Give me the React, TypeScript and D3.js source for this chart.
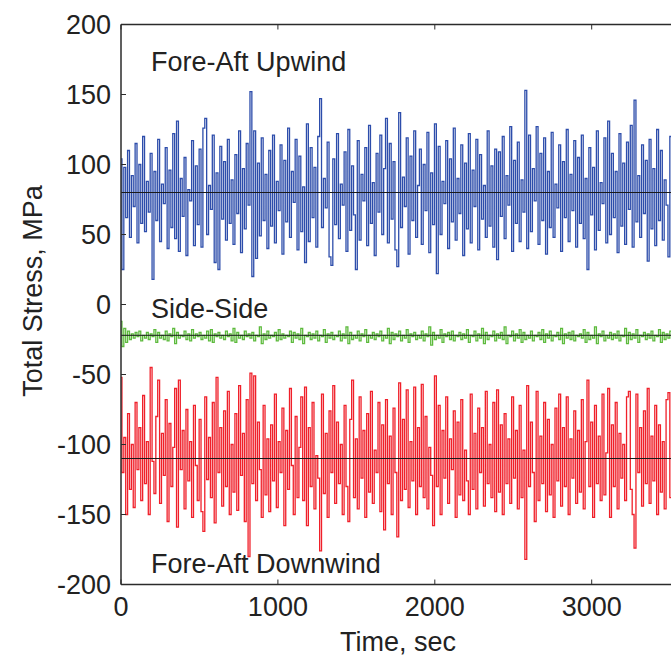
import React from "react";
import * as d3 from "d3";

const W = 671;
const H = 655;

const sampleStep = 12; // seconds between samples
const xTicks = [0, 1000, 2000, 3000];
const yTicks = [200, 150, 100, 50, 0, -50, -100, -150, -200];

const upwind = [
  104, 25, 98, 62, 110, 48, 92, 70, 115, 44, 100, 58, 120, 52, 88, 66, 108, 18, 95, 60,
  118, 45, 86, 72, 112, 40, 96, 55, 122, 47, 131, 38, 90, 63, 105, 35, 82, 74, 117, 42,
  99, 57, 111, 41, 126, 133, 50, 85, 68, 121, 30, 94, 25, 113, 61, 102, 46, 118, 58, 89,
  43, 107, 65, 124, 37, 97, 54, 115, 71, 152, 20, 124, 33, 101, 49, 119, 60, 93, 40, 110,
  56, 121, 44, 88, 67, 114, 36, 103, 59, 126, 48, 95, 73, 118, 39, 106, 52, 84, 30, 129,
  45, 112, 62, 98, 41, 120, 147, 55, 90, 69, 116, 34, 28, 104, 57, 122, 47, 86, 71, 109,
  38, 125, 53, 99, 64, 25, 117, 46, 93, 74, 112, 42, 128, 58, 87, 35, 108, 66, 121, 50,
  97, 133, 44, 115, 61, 102, 39, 27, 137, 55, 91, 70, 119, 36, 106, 60, 124, 48, 85, 111,
  43, 100, 67, 123, 37, 94, 57, 129, 22, 113, 50, 88, 72, 117, 40, 104, 59, 126, 46, 90,
  65, 114, 35, 101, 54, 122, 44, 96, 70, 118, 39, 107, 61, 85, 48, 124, 56, 99, 41, 111,
  32, 109, 63, 120, 47, 92, 71, 127, 38, 103, 58, 116, 45, 89, 66, 153, 40, 121, 52, 97,
  74, 127, 43, 108, 60, 119, 36, 95, 55, 123, 48, 86, 69, 114, 38, 102, 62, 125, 45, 93,
  67, 117, 41, 105, 58, 121, 47, 90, 25, 112, 64, 98, 39, 124, 53, 87, 72, 119, 44, 131,
  50, 108, 62, 95, 37, 122, 56, 101, 43, 116, 68, 128, 41, 146, 59, 92, 48, 114, 65, 103,
  31, 118, 54, 97, 42, 125, 60, 110, 46, 89, 71, 34, 120, 52, 106, 63, 115, 40, 99, 57,
  86,
];

const sideSide = [
  -12, -30, -17, -27, -19, -25, -21, -24, -20, -23, -19, -26, -22, -24, -20, -25, -21, -23, -18, -27,
  -20, -24, -22, -25, -19, -26, -21, -23, -17, -28, -20, -24, -22, -23, -19, -25, -21, -26, -18, -24,
  -21, -23, -20, -25, -22, -24, -19, -26, -18, -27, -21, -23, -20, -24, -22, -25, -19, -23, -21, -26,
  -17, -27, -20, -24, -22, -25, -19, -23, -21, -24, -20, -26, -22, -23, -16, -28, -21, -25, -19, -24,
  -22, -23, -20, -26, -18, -25, -21, -24, -22, -23, -19, -27, -20, -24, -21, -25, -17, -28, -22, -23,
  -20, -25, -21, -24, -19, -26, -22, -23, -18, -27, -21, -24, -20, -25, -22, -23, -19, -26, -21, -24,
  -16, -28, -20, -25, -22, -24, -19, -26, -21, -23, -18, -27, -22, -24, -20, -25, -21, -23, -19, -26,
  -22, -24, -17, -28, -20, -25, -21, -23, -19, -26, -22, -24, -18, -27, -21, -23, -20, -25, -22, -24,
  -19, -26, -21, -23, -16, -29, -20, -25, -22, -24, -18, -27, -21, -23, -20, -25, -19, -26, -22, -23,
  -20, -25, -21, -24, -18, -27, -22, -23, -19, -26, -21, -24, -17, -28, -20, -25, -22, -23, -19, -26,
  -21, -24, -20, -25, -16, -28, -22, -23, -19, -26, -21, -24, -18, -27, -20, -25, -22, -24, -19, -26,
  -22, -23, -20, -25, -18, -27, -21, -24, -19, -26, -22, -23, -20, -25, -17, -28, -21, -24, -20, -25,
  -19, -26, -22, -23, -21, -24, -18, -27, -20, -25, -22, -24, -16, -28, -21, -23, -19, -26, -22, -24,
  -20, -25, -21, -24, -19, -26, -22, -23, -17, -28, -20, -25, -21, -24, -18, -27, -22, -23, -20, -25,
  -21, -24, -19, -26, -22, -23, -18, -27, -20, -25, -21, -24, -19, -26, -22, -23, -20, -25, -21, -24,
  -22,
];

const downwind = [
  -52, -120, -95, -150, -78, -132, -100, -145, -70, -118, -88, -140, -65, -128, -98, -150, -45, -112, -135, -80,
  -54, -142, -92, -122, -68, -155, -85, -130, -102, -60, -159, -54, -118, -90, -146, -75, -126, -98, -152, -72,
  -115, -140, -82, -148, -162, -66, -125, -95, -138, -70, -156, -52, -120, -88, -144, -76, -130, -62, -150, -100,
  -134, -78, -147, -58, -122, -92, -155, -68, -180, -49, -128, -51, -140, -84, -118, -152, -72, -136, -96, -148,
  -86, -126, -64, -145, -98, -120, -74, -158, -90, -132, -60, -115, -150, -80, -138, -102, -66, -140, -59, -158,
  -88, -130, -70, -146, -108, -124, -176, -64, -135, -92, -152, -76, -120, -58, -142, -84, -128, -100, -150, -72,
  -130, -155, -82, -54, -138, -96, -146, -66, -124, -90, -152, -78, -134, -62, -142, -104, -120, -70, -148, -86,
  -161, -68, -128, -94, -150, -74, -120, -166, -56, -140, -82, -132, -61, -145, -98, -126, -59, -150, -88, -130,
  -57, -138, -80, -146, -102, -122, -158, -51, -130, -72, -150, -90, -124, -66, -142, -96, -118, -76, -152, -84,
  -136, -68, -140, -104, -126, -150, -64, -132, -92, -146, -74, -120, -88, -144, -62, -128, -100, -138, -70, -148,
  -61, -134, -86, -150, -78, -128, -96, -142, -66, -124, -90, -146, -72, -138, -104, -182, -58, -130, -84, -120,
  -155, -62, -140, -94, -128, -70, -148, -82, -136, -100, -152, -74, -126, -64, -144, -88, -130, -66, -150, -96,
  -124, -76, -142, -90, -134, -68, -146, -98, -54, -130, -84, -152, -72, -128, -94, -140, -64, -136, -106, -60,
  -152, -86, -130, -70, -146, -92, -124, -100, -140, -66, -62, -132, -150, -174, -64, -120, -88, -144, -76, -128,
  -60, -142, -94, -126, -72, -150, -86, -134, -98, -146, -68, -63, -138, -80, -124, -102, -144, -74, -130, -90,
  -116,
];

const meanUpwind = 80;
const meanSide = -22;
const meanDownwind = -110;

const labels = [
  { text: "Fore-Aft Upwind", t: 195, v: 167 },
  { text: "Side-Side", t: 195, v: -9.6 },
  { text: "Fore-Aft Downwind", t: 195, v: -191.5 },
];

const FONT = "'Liberation Sans', Arial, Helvetica, sans-serif";
const AXIS = "#2b2b2b";
const TEXT = "#222";
const FS = 27;

export default function App() {
  const x = d3.scaleLinear().domain([0, 3600]).range([121, 121 + 3600 * 0.1569]);
  const y = d3.scaleLinear().domain([-200, 200]).range([584.5, 24.5]);
  const left = x(0);
  const right = x(3600);
  const top = y(200);
  const bottom = y(-200);

  const line = d3
    .line<number>()
    .x((_, i) => x(i * sampleStep))
    .y((d) => y(d))
    .curve(d3.curveStep);

  const series = [
    { data: upwind, color: "#2d4dab" },
    { data: sideSide, color: "#5cba3c" },
    { data: downwind, color: "#f0202a" },
  ];
  const means = [meanUpwind, meanSide, meanDownwind];

  return (
    <svg
      width={W}
      height={H}
      style={{ position: "absolute", left: 0, top: 0, background: "#fff" }}
      fontFamily={FONT}
    >
      <rect x={0} y={0} width={W} height={H} fill="#fff" />
      {series.map((s, i) => (
        <path key={i} d={line(s.data) || ""} fill="none" stroke={s.color} strokeWidth={1.3} />
      ))}
      {means.map((m, i) => (
        <line key={i} x1={left} x2={right} y1={y(m)} y2={y(m)} stroke="#1a1a1a" strokeWidth={1} />
      ))}
      {labels.map((l, i) => (
        <text key={i} x={x(l.t) - 0.5} y={y(l.v)} fontSize={FS} fill={TEXT}>
          {l.text}
        </text>
      ))}
      {/* axes box */}
      <line x1={left} x2={right} y1={bottom} y2={bottom} stroke={AXIS} strokeWidth={1.5} />
      <line x1={left} x2={right} y1={top} y2={top} stroke={AXIS} strokeWidth={1.5} />
      <line x1={left} x2={left} y1={top} y2={bottom} stroke={AXIS} strokeWidth={1.5} />
      {yTicks.map((t) => (
        <g key={t}>
          <line x1={left} x2={left + 5} y1={y(t)} y2={y(t)} stroke={AXIS} strokeWidth={1} />
          <text
            x={left - 10}
            y={y(t)}
            dy="0.36em"
            textAnchor="end"
            fontSize={FS}
            fill={TEXT}
          >
            {t}
          </text>
        </g>
      ))}
      {xTicks.map((t) => (
        <g key={t}>
          <line x1={x(t)} x2={x(t)} y1={bottom} y2={bottom - 5} stroke={AXIS} strokeWidth={1} />
          <line x1={x(t)} x2={x(t)} y1={top} y2={top + 5} stroke={AXIS} strokeWidth={1} />
          <text x={x(t)} y={615.5} textAnchor="middle" fontSize={FS} fill={TEXT}>
            {t}
          </text>
        </g>
      ))}
      <text x={398} y={651} textAnchor="middle" fontSize={FS} fill={TEXT}>
        Time, sec
      </text>
      <text
        transform={`translate(41.5, 291) rotate(-90)`}
        textAnchor="middle"
        fontSize={FS}
        fill={TEXT}
      >
        Total Stress, MPa
      </text>
    </svg>
  );
}
